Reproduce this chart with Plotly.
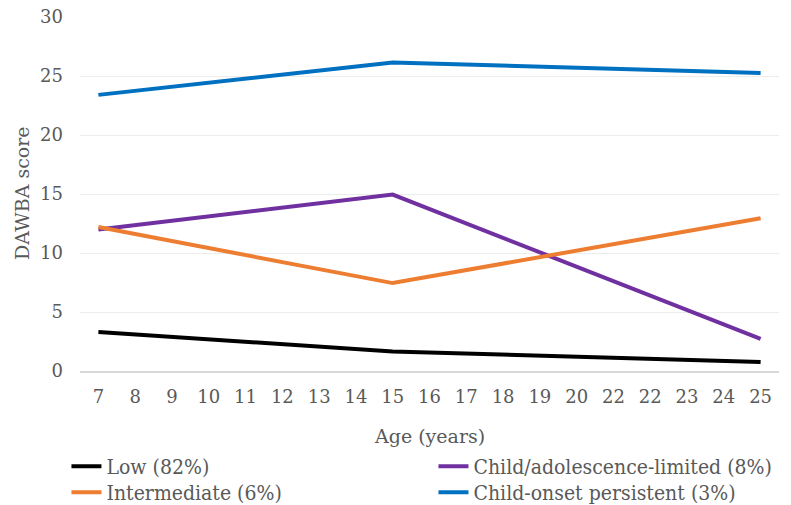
import plotly.graph_objects as go

age_labels = ["7", "8", "9", "10", "11", "12", "13", "14", "15", "16",
              "17", "18", "19", "20", "22", "22", "23", "24", "25"]

# values at each age category (None where not measured)
low = [3.3] + [None] * 7 + [1.65] + [None] * 9 + [0.77]
child_adol = [12.0] + [None] * 7 + [14.95] + [None] * 9 + [2.72]
intermediate = [12.2] + [None] * 7 + [7.45] + [None] * 9 + [12.95]
persistent = [23.4] + [None] * 7 + [26.15] + [None] * 9 + [25.25]

FONT = "DejaVu Serif"
LFONT = "DejaVu Serif Condensed"
GREY = "#595959"
W, H = 791, 505
ML, MR, MT, MB = 80, 12, 17, 134
PW, PH = W - ML - MR, H - MT - MB
xpos = list(range(len(age_labels)))

# (name, values, colour, legend id, legend x, legend top px)
series = [
    ("Low (82%)", low, "#000000", "legend", 0.084, 446),
    ("Child/adolescence-limited (8%)", child_adol, "#7030A0", "legend2", 0.548, 446),
    ("Intermediate (6%)", intermediate, "#ED7D31", "legend3", 0.084, 472),
    ("Child-onset persistent (3%)", persistent, "#0070C0", "legend4", 0.548, 472),
]

fig = go.Figure()
legends = {}
for name, vals, col, lg, lx, ly in series:
    fig.add_trace(go.Scatter(
        x=xpos, y=vals, name=name, mode="lines", connectgaps=True,
        line=dict(color=col, width=4), legend=lg,
    ))
    legends[lg] = dict(
        orientation="v", xref="container", yref="container",
        x=lx, y=1 - ly / H,
        xanchor="left", yanchor="top", bgcolor="rgba(0,0,0,0)",
        font=dict(family=LFONT, size=21, color=GREY),
        itemwidth=30,
    )

fig.update_layout(
    width=W, height=H,
    margin=dict(l=ML, r=MR, t=MT, b=MB, autoexpand=False),
    plot_bgcolor="white", paper_bgcolor="white",
    font=dict(family=FONT, size=16, color=GREY),
    showlegend=True,
    **legends,
    xaxis=dict(
        range=[-0.5, 18.5], tickmode="array", tickvals=xpos, ticktext=age_labels,
        showgrid=False, showline=True, linecolor="#d9d9d9", linewidth=1.5,
        ticks="", zeroline=False, fixedrange=True, ticklabelstandoff=9,
        tickfont=dict(family=FONT, size=18, color=GREY),
    ),
    yaxis=dict(
        range=[0, 30], tickmode="array", tickvals=[0, 5, 10, 15, 20, 25, 30],
        showgrid=True, gridcolor="#ececec", gridwidth=1, zeroline=False,
        ticks="", showline=False, ticklabelstandoff=16, fixedrange=True,
        tickfont=dict(family=FONT, size=18, color=GREY),
    ),
    annotations=[
        dict(text="Age (years)", xref="paper", yref="paper",
             x=0.5, y=(H - MB - 436) / PH, xanchor="center", yanchor="middle",
             showarrow=False, font=dict(family=FONT, size=19, color=GREY)),
        dict(text="DAWBA score", xref="paper", yref="paper",
             x=(22 - ML) / PW, y=(H - MB - 193) / PH, xanchor="center", yanchor="middle",
             textangle=-90, showarrow=False,
             font=dict(family=FONT, size=19, color=GREY)),
    ],
)

fig.write_html("out.html", config={"displayModeBar": False},
               post_script="document.body.style.margin='0';")
